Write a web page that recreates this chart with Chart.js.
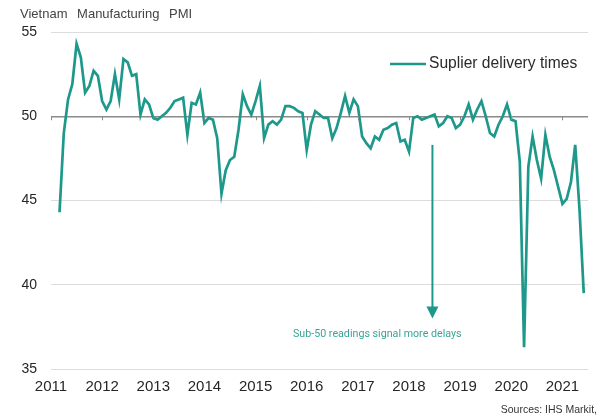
<!DOCTYPE html>
<html lang="en">
  <head>
    <meta charset="UTF-8" />
    <title>Vietnam Manufacturing PMI</title>
    <script src="https://cdn.jsdelivr.net/npm/chart.js"></script>
    <style>
      body { margin: 0; background: #fff; }
      #wrap { position: relative; width: 604px; height: 419px; font-family: "Liberation Sans", Arial, sans-serif; }
      #title { position: absolute; left: 20px; top: 6px; font-size: 13px; color: #444; word-spacing: 6px; }
      #note { position: absolute; left: 293px; top: 327px; font-family: Roboto, sans-serif; font-size: 10.7px; color: #3aa396; }
      #source { position: absolute; right: 7px; top: 403px; font-size: 10.5px; color: #333; }
    </style>
  </head>
  <body>
    <div id="wrap">
      <canvas id="pmiChart" width="604" height="419"></canvas>
      <div id="title">Vietnam Manufacturing PMI</div>
      <div id="note">Sub-50 readings signal more delays</div>
      <div id="source">Sources: IHS Markit,</div>
    </div>

    <script>
      // suppliers' delivery times index, monthly; series starts March 2011
      const firstMonth = 2; // months after Jan 2011
      const pmi2011 = [44.3, 49.0, 51.0, 51.9, 54.3, 53.5, 51.4, 51.8, 52.7, 52.4];
      const pmi2012 = [50.9, 50.4, 50.9, 52.5, 51.0, 53.4, 53.2, 52.4, 52.5, 50.1, 51.0, 50.7];
      const pmi2013 = [49.9, 49.8, 50.0, 50.2, 50.5, 50.9, 51.0, 51.1, 48.9, 50.8, 50.7, 51.4];
      const pmi2014 = [49.6, 49.9, 49.8, 48.7, 45.4, 46.8, 47.4, 47.6, 49.2, 51.3, 50.6, 50.1];
      const pmi2015 = [50.9, 51.8, 48.7, 49.5, 49.7, 49.5, 49.8, 50.6, 50.6, 50.5, 50.3, 50.2];
      const pmi2016 = [48.0, 49.5, 50.3, 50.1, 49.9, 49.9, 48.7, 49.3, 50.2, 51.2, 50.2, 51.0];
      const pmi2017 = [50.6, 48.8, 48.4, 48.1, 48.8, 48.6, 49.2, 49.3, 49.5, 49.6, 48.5, 48.6];
      const pmi2018 = [47.9, 49.9, 50.0, 49.8, 49.9, 50.0, 50.1, 49.4, 49.6, 50.0, 49.9, 49.3];
      const pmi2019 = [49.5, 50.0, 50.7, 49.8, 50.4, 50.9, 50.0, 49.0, 48.8, 49.5, 50.0, 50.7];
      const pmi2020 = [49.8, 49.7, 47.3, 36.3, 47.0, 48.8, 47.4, 46.3, 48.9, 47.6, 46.8, 45.8];
      const pmi2021 = [44.8, 45.1, 46.1, 48.3, 44.5, 39.5];

      const yearLabels = ["2011", "2012", "2013", "2014", "2015", "2016", "2017", "2018", "2019", "2020", "2021"];
      const yTicks = [35, 40, 45, 50, 55];

      // arrow under the 50 line, mid-2018
      const arrowMonth = 89.5;
      const arrowFrom = 48.3;
      const arrowTo = 38.0;

      const teal = "#1d988a";

      const deliveryTimes = [].concat(
        pmi2011, pmi2012, pmi2013, pmi2014, pmi2015, pmi2016,
        pmi2017, pmi2018, pmi2019, pmi2020, pmi2021
      );
      const points = deliveryTimes.map((v, i) => ({ x: firstMonth + i, y: v }));

      // year ticks on the 50 line, legend and the arrow
      const extras = {
        id: "extras",
        afterDatasetsDraw(chart) {
          const ctx = chart.ctx;
          const xs = chart.scales.x;
          const ys = chart.scales.y;
          const y50 = ys.getPixelForValue(50);

          ctx.save();
          ctx.strokeStyle = "#8a8a8a";
          ctx.lineWidth = 1;
          xs.ticks.forEach((t) => {
            const x = Math.round(xs.getPixelForValue(t.value)) + 0.5;
            ctx.beginPath();
            ctx.moveTo(x, y50);
            ctx.lineTo(x, y50 + 4);
            ctx.stroke();
          });

          // arrow
          const ax = xs.getPixelForValue(arrowMonth);
          const ay1 = ys.getPixelForValue(arrowFrom);
          const ay2 = ys.getPixelForValue(arrowTo);
          ctx.strokeStyle = teal;
          ctx.fillStyle = teal;
          ctx.lineWidth = 2;
          ctx.beginPath();
          ctx.moveTo(ax, ay1);
          ctx.lineTo(ax, ay2 - 10);
          ctx.stroke();
          ctx.beginPath();
          ctx.moveTo(ax - 6, ay2 - 12);
          ctx.lineTo(ax + 6, ay2 - 12);
          ctx.lineTo(ax, ay2);
          ctx.closePath();
          ctx.fill();

          // legend
          const ly = 64;
          ctx.strokeStyle = teal;
          ctx.lineWidth = 2.5;
          ctx.beginPath();
          ctx.moveTo(390, ly);
          ctx.lineTo(426, ly);
          ctx.stroke();
          ctx.fillStyle = "#2a2a2a";
          ctx.font = '15.6px "Liberation Sans", Arial, sans-serif';
          ctx.textBaseline = "middle";
          ctx.textAlign = "left";
          ctx.fillText(chart.data.datasets[0].label, 429, ly);
          ctx.restore();
        },
      };

      const ctx = document.getElementById("pmiChart").getContext("2d");
      new Chart(ctx, {
        type: "line",
        data: {
          datasets: [
            {
              label: "Suplier delivery times",
              data: points,
              borderColor: teal,
              borderWidth: 2.7,
              pointRadius: 0,
              tension: 0,
              fill: false,
            },
          ],
        },
        options: {
          responsive: false,
          animation: false,
          devicePixelRatio: 1,
          layout: { padding: { top: 32, right: 16, left: 0, bottom: 0 } },
          plugins: {
            legend: { display: false },
            tooltip: { enabled: false },
          },
          scales: {
            x: {
              type: "linear",
              min: 0,
              max: 126,
              afterFit: (scale) => { scale.height = 50; },
              grid: { display: false, drawTicks: false },
              border: { display: false },
              ticks: {
                stepSize: 12,
                includeBounds: false,
                autoSkip: false,
                maxRotation: 0,
                padding: 9,
                color: "#262626",
                font: { family: '"Liberation Sans", Arial, sans-serif', size: 15 },
                callback: (v) => yearLabels[v / 12],
              },
            },
            y: {
              min: 35,
              max: 55,
              afterFit: (scale) => { scale.width = 51; },
              afterBuildTicks: (scale) => { scale.ticks = yTicks.map((v) => ({ value: v })); },
              grid: {
                drawTicks: false,
                color: (c) => (c.tick && c.tick.value === 50 ? "#8a8a8a" : "#dcdcdc"),
                lineWidth: (c) => (c.tick && c.tick.value === 50 ? 1.5 : 1),
              },
              border: { display: false },
              ticks: {
                padding: 14,
                color: "#262626",
                font: { family: '"Liberation Sans", Arial, sans-serif', size: 14 },
              },
            },
          },
        },
        plugins: [extras],
      });
    </script>
  </body>
</html>
